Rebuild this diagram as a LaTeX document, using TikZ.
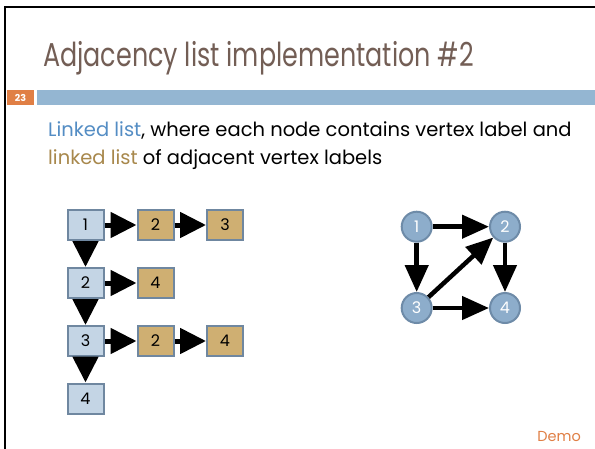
\documentclass[tikz,border=0pt]{standalone}
\usepackage{fontspec}
\setmainfont{Poppins}
\newfontfamily\titlefont[FakeStretch=0.77]{Poppins}
\usetikzlibrary{arrows.meta}

\definecolor{titlebrown}{RGB}{115,94,85}
\definecolor{accent}{RGB}{224,127,69}
\definecolor{barblue}{RGB}{148,182,210}
\definecolor{linkblue}{RGB}{84,141,196}
\definecolor{linktan}{RGB}{168,136,76}
\definecolor{cellblue}{RGB}{196,213,229}
\definecolor{celltan}{RGB}{207,175,114}
\definecolor{cellborder}{RGB}{111,135,160}
\definecolor{vertexfill}{RGB}{141,173,203}
\definecolor{vertexborder}{RGB}{110,139,168}

\tikzset{
  cell/.style={draw=cellborder, line width=2pt, minimum width=36pt, minimum height=30pt,
    inner sep=0pt, font=\fontsize{16}{16}\selectfont},
  headcell/.style={cell, fill=cellblue},
  adjcell/.style={cell, fill=celltan},
  listarrow/.style={line width=5pt, -{Triangle[length=26pt,width=25pt]}},
  vertex/.style={circle, draw=vertexborder, line width=2pt, fill=vertexfill, minimum size=30pt,
    inner sep=0pt, text=white, font=\fontsize{16}{16}\selectfont},
  edge/.style={line width=4.5pt, -{Triangle[length=27pt,width=23pt]}},
}

\begin{document}
\begin{tikzpicture}[x=1pt,y=-1pt]
\useasboundingbox (0,0) rectangle (595,448);
\fill[white] (0,0) rectangle (595,448);
\begin{scope}
\clip (0,0) rectangle (595,448);
% slide frame
\draw[line width=2.2pt] (5.2,460) -- (5.2,7) -- (600,7);
\end{scope}

% title
\node[anchor=base west, inner sep=0pt, text=titlebrown, font=\titlefont\fontsize{33}{38}\selectfont]
  (title) at (43,66.5) {Adjacency list implementation \#2};

% number tab and rule
\fill[accent] (6.5,90) rectangle (34.3,105);
\node[text=white, font=\bfseries\fontsize{9.5}{9.5}\selectfont, inner sep=0pt] (pagenum) at (20.5,97.8) {23};
\fill[barblue] (36.7,90) rectangle (595,105);

% body text
\node[anchor=base west, inner sep=0pt, font=\fontsize{19.5}{22}\selectfont] (line1) at (48,136)
  {\textcolor{linkblue}{Linked list}, where each node contains vertex label and};
\node[anchor=base west, inner sep=0pt, font=\fontsize{19.5}{22}\selectfont] (line2) at (48,164.5)
  {\textcolor{linktan}{linked list} of adjacent vertex labels};

% adjacency lists
\node[headcell] (v1) at (85.5,225) {1};
\node[headcell] (v2) at (85.5,283) {2};
\node[headcell] (v3) at (85.5,341) {3};
\node[headcell] (v4) at (85.5,398.5) {4};
\node[adjcell] (a12) at (155.5,225) {2};
\node[adjcell] (a13) at (225,225) {3};
\node[adjcell] (a24) at (155.5,283) {4};
\node[adjcell] (a32) at (155.5,341) {2};
\node[adjcell] (a34) at (225,341) {4};

\draw[listarrow] (v1) -- (a12);
\draw[listarrow] (a12) -- (a13);
\draw[listarrow] (v2) -- (a24);
\draw[listarrow] (v3) -- (a32);
\draw[listarrow] (a32) -- (a34);
\draw[listarrow] (v1) -- (v2);
\draw[listarrow] (v2) -- (v3);
\draw[listarrow] (v3) -- (v4);

% graph
\node[vertex] (g1) at (416.7,226.7) {1};
\node[vertex] (g2) at (505,226.7) {2};
\node[vertex] (g3) at (416.7,308) {3};
\node[vertex] (g4) at (505,308) {4};
\draw[edge] (g1) -- (g2);
\draw[edge] (g1) -- (g3);
\draw[edge] (g2) -- (g4);
\draw[edge] (g3) -- (g4);
\draw[edge] (g3) -- (g2);

% footer
\node[anchor=base east, inner sep=0pt, text=accent, font=\fontsize{14.5}{14.5}\selectfont] (demo) at (581,441) {Demo};
\end{tikzpicture}
\end{document}
